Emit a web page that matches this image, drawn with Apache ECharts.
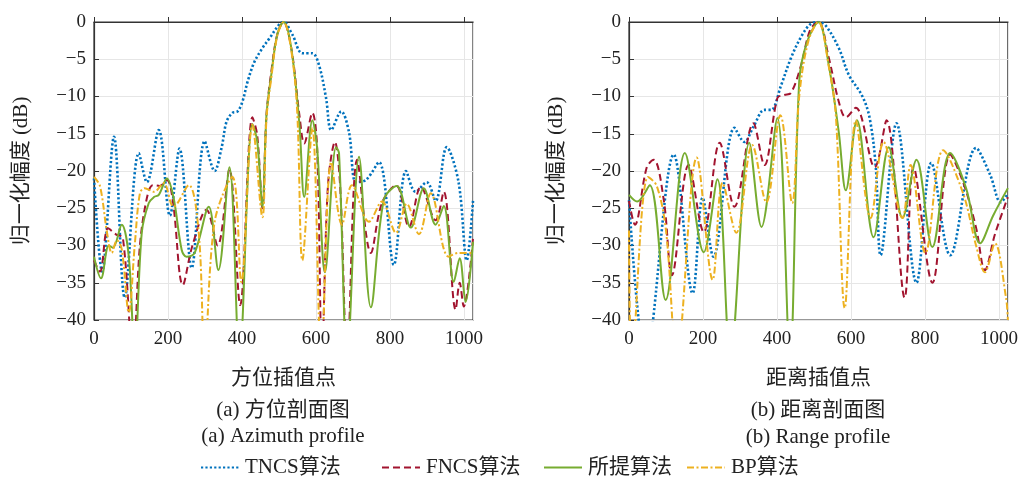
<!DOCTYPE html>
<html><head><meta charset="utf-8">
<script src="https://cdn.jsdelivr.net/npm/echarts@6/dist/echarts.min.js"></script>
<style>html,body{margin:0;padding:0;background:#fff}#c{width:1021px;height:477px}</style>
</head><body><div id="c"></div>
<script>
// ---- data (x: interpolation point, y: normalized amplitude dB) ----
const xTicks = [0, 200, 400, 600, 800, 1000];
const yTicks = [0, -5, -10, -15, -20, -25, -30, -35, -40];
const seriesNames = ['TNCS算法', 'FNCS算法', '所提算法', 'BP算法'];

// (a) azimuth profile
const azTNCS = [[0,-21],[22,-33.5],[54,-15.4],[83,-37],[121,-17.6],[143,-21.5],[175,-14.5],[205,-26],[231,-17],[264,-33],[299,-16],[326,-20],[345,-16.8],[358,-13.4],[374,-12.2],[388,-12],[401,-10.7],[415,-8],[433,-5.4],[455,-3.5],[474,-2.2],[501,-0.3],[512,0],[536,-1.7],[563,-4.2],[590,-4.2],[608,-5.8],[627,-10.2],[641,-14.5],[668,-12],[689,-14.8],[708,-21.5],[735,-21.2],[770,-18.8],[810,-32.6],[843,-20],[869,-22.8],[899,-21.5],[923,-24],[953,-16.8],[985,-21.5],[1007,-32],[1024,-24]];
const azFNCS = [[0,-32],[16,-33.5],[38,-27.7],[59,-28.5],[78,-29],[105,-45],[124,-30],[143,-23.6],[159,-21.9],[178,-22],[197,-21.2],[213,-24],[240,-35.3],[266,-30],[304,-25.2],[334,-30],[366,-19.8],[395,-38],[428,-12.8],[441,-15.2],[455,-25],[466,-12.5],[479,-6.7],[495,-1.7],[512,0],[533,-3.5],[555,-12.5],[568,-16.3],[590,-12.2],[603,-17],[616,-45],[632,-22],[651,-16.1],[665,-22],[684,-45],[711,-18.5],[748,-31],[778,-24.3],[816,-21.9],[851,-27.5],[883,-22.1],[923,-26.6],[945,-22.8],[977,-38.6],[988,-35],[999,-38.2],[1024,-29]];
const azProp = [[0,-31.5],[19,-34.4],[40,-30],[51,-30.3],[75,-27.2],[94,-31.5],[110,-45],[129,-28.3],[148,-24.3],[162,-23.5],[175,-23.2],[197,-21],[215,-23.6],[237,-30.6],[250,-31.5],[272,-31],[310,-24.8],[336,-33.3],[366,-19.5],[393,-45],[428,-13.7],[441,-16],[455,-24.8],[466,-12.5],[479,-7.1],[495,-1.7],[512,0],[533,-3.5],[555,-13.8],[568,-23.5],[590,-13.2],[603,-17],[624,-33.6],[654,-16.8],[662,-17.6],[684,-45],[716,-18.1],[748,-38.3],[783,-23.9],[818,-22],[856,-27.6],[891,-22.3],[923,-27.2],[945,-24.7],[972,-34.9],[988,-31.7],[1004,-37.6],[1024,-29.5]];
const azBP = [[0,-20.8],[16,-22],[35,-28.2],[48,-31],[62,-29.3],[75,-30.5],[94,-39],[110,-30],[124,-23],[137,-22.3],[162,-22.8],[188,-21.6],[215,-24.8],[256,-21.9],[283,-28.3],[299,-45],[326,-26.8],[374,-20.8],[398,-34.9],[428,-13.8],[455,-26.2],[466,-13],[479,-7.5],[495,-1.9],[512,0],[533,-3.8],[549,-12],[563,-32],[590,-14.2],[614,-45],[641,-18.8],[670,-27.2],[697,-21.9],[743,-26.8],[778,-24.1],[816,-28.3],[845,-24.4],[878,-28.5],[910,-23],[958,-31.5],[985,-31],[1024,-31]];

// (b) range profile
const rgTNCS = [[0,-23.9],[45,-45],[121,-17.8],[172,-36.4],[199,-23.6],[228,-31.5],[285,-14.2],[312,-16.1],[336,-14.1],[366,-11.8],[384,-11.8],[411,-8.5],[438,-4.8],[465,-2],[490,-0.3],[512,0],[532,-0.5],[567,-3.5],[594,-7.1],[629,-9.8],[650,-12.8],[667,-19.5],[680,-31.3],[723,-13.6],[777,-35],[817,-18.9],[868,-31.3],[938,-16.9],[976,-20.5],[1005,-24.2],[1024,-23]];
const rgFNCS = [[0,-24],[16,-27.2],[48,-19.5],[67,-18.5],[94,-23.9],[116,-34],[161,-19.2],[202,-28.2],[245,-16.2],[285,-24.8],[336,-13.6],[366,-19.2],[401,-10.2],[419,-9.8],[438,-9.5],[465,-5.8],[490,-1],[512,0],[540,-4.8],[567,-10.7],[586,-12.8],[613,-11.5],[664,-19.5],[696,-13.2],[745,-37],[769,-19.5],[820,-35],[868,-17.8],[903,-21.5],[938,-27.6],[962,-33.3],[989,-28.5],[1024,-23.5]];
const rgProp = [[0,-23.2],[22,-24.1],[56,-21.9],[99,-37.3],[151,-17.6],[202,-30.9],[239,-21.1],[274,-45],[325,-16.2],[358,-27.5],[401,-12.9],[435,-45],[460,-8],[481,-2.7],[512,0],[540,-5.8],[567,-14.8],[586,-22.6],[616,-13.2],[661,-28.9],[702,-16.8],[739,-26.3],[777,-18.5],[820,-30.2],[868,-17.6],[911,-22.3],[949,-29.7],[984,-26],[1024,-22.3]];
const rgBP = [[0,-28],[8,-45],[51,-20.8],[75,-22],[100,-28],[129,-45],[183,-18.2],[226,-34.6],[253,-21.6],[290,-28.3],[333,-16.5],[371,-24.2],[409,-12.5],[441,-24.3],[460,-10],[485,-2.5],[512,0],[540,-6],[559,-12.5],[583,-38.4],[613,-13.2],[653,-26.3],[688,-16.1],[739,-26.3],[761,-19.2],[801,-31],[849,-17.2],[903,-23],[938,-30],[962,-33.6],[989,-29.7],[1019,-37],[1024,-40]];

const colors = ['#0072BD', '#A2142F', '#77AC30', '#EDB120'];
const dashes = [[2.2, 2.2], [7, 4], null, [7, 2.5, 2, 2.5]];
const widths = [2.6, 2, 2, 2];
const SERIF = '"Liberation Serif","Noto Sans CJK SC",serif';

const chart = echarts.init(document.getElementById('c'), null, {renderer: 'canvas'});
const fmtY = v => (v < 0 ? '\u2212' + Math.abs(v) : String(v));
const fmtX = v => (xTicks.indexOf(v) >= 0 ? String(v) : '');

function mkX(idx, name) {
  return {
    type: 'value', gridIndex: idx, min: 0, max: 1024, interval: 200,
    name: name, nameLocation: 'middle', nameGap: 48,
    nameTextStyle: {fontFamily: SERIF, fontSize: 21, color: '#222'},
    axisLine: {show: true, lineStyle: {color: '#333', width: 1.2}},
    axisTick: {show: true, inside: true, length: 5, lineStyle: {color: '#333'}},
    axisLabel: {formatter: fmtX, showMaxLabel: false, margin: 10, fontFamily: SERIF, fontSize: 19, color: '#222'},
    splitLine: {show: true, lineStyle: {color: '#e6e6e6', width: 1}}
  };
}
function mkY(idx) {
  return {
    type: 'value', gridIndex: idx, min: -40, max: 0, interval: 5,
    name: '归一化幅度 (dB)', nameLocation: 'middle', nameGap: 62,
    nameTextStyle: {fontFamily: SERIF, fontSize: 21, color: '#222'},
    axisLine: {show: true, lineStyle: {color: '#333', width: 1.2}},
    axisTick: {show: true, inside: true, length: 5, lineStyle: {color: '#333'}},
    axisLabel: {formatter: fmtY, margin: 8, fontFamily: SERIF, fontSize: 19, color: '#222'},
    splitLine: {show: true, lineStyle: {color: '#e6e6e6', width: 1}}
  };
}
function mkS(name, data, k, idx) {
  const ls = {color: colors[k], width: widths[k], cap: 'butt'};
  ls.type = dashes[k] ? dashes[k] : 'solid';
  return {
    name: name, type: 'line', xAxisIndex: idx, yAxisIndex: idx, data: data,
    smooth: 0.35, symbol: 'none', clip: true, lineStyle: ls, itemStyle: {color: colors[k]},
    animation: false, z: 2 + k
  };
}
const az = [azTNCS, azFNCS, azProp, azBP];
const rg = [rgTNCS, rgFNCS, rgProp, rgBP];
const series = [];
az.forEach((d, k) => series.push(mkS(seriesNames[k], d, k, 0)));
rg.forEach((d, k) => series.push(mkS(seriesNames[k], d, k, 1)));

const capFont = '21px ' + SERIF;
function txt(x, y, t) {
  return {type: 'text', x: x, y: y, style: {text: t, font: capFont, fill: '#222', textAlign: 'center', textVerticalAlign: 'middle'}};
}
const legendLeft = [200, 381, 543, 686];
const legends = seriesNames.map((n, k) => ({
  data: [n], left: legendLeft[k], top: 457, padding: 0,
  itemWidth: 38, itemHeight: 12, itemGap: 0,
  itemStyle: {opacity: 0, borderWidth: 0},
  textStyle: {fontFamily: SERIF, fontSize: 21, color: '#222', padding: [0, 0, 0, 1]}
}));

chart.setOption({
  animation: false,
  grid: [
    {left: 94, top: 22, width: 379, height: 298, show: true, borderColor: '#333', borderWidth: 1.2},
    {left: 629, top: 22, width: 380, height: 298, show: true, borderColor: '#333', borderWidth: 1.2}
  ],
  xAxis: [mkX(0, '方位插值点'), mkX(1, '距离插值点')],
  yAxis: [mkY(0), mkY(1)],
  legend: legends,
  graphic: [
    txt(283, 410, '(a) 方位剖面图'),
    txt(283, 436, '(a) Azimuth profile'),
    txt(818, 410, '(b) 距离剖面图'),
    txt(818, 437, '(b) Range profile')
  ],
  series: series
});
</script></body></html>
